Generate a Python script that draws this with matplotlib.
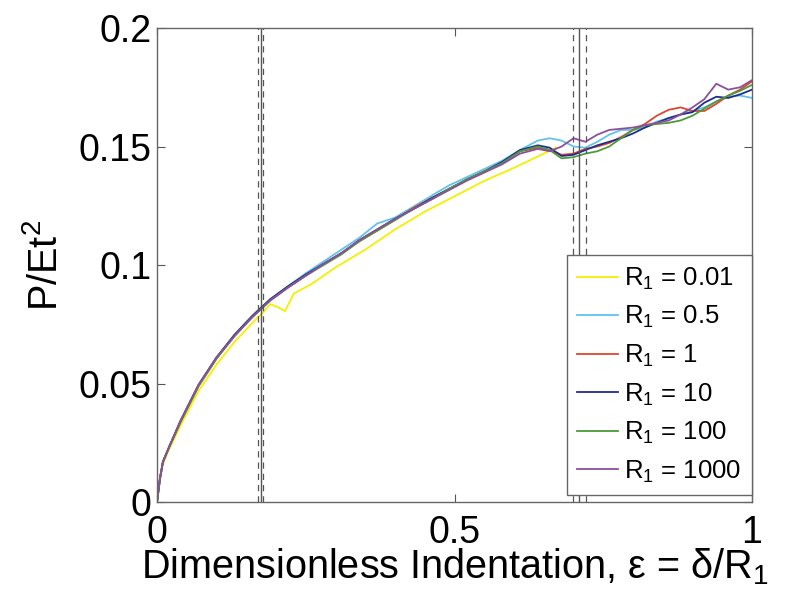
import matplotlib
matplotlib.use('Agg')
import matplotlib.pyplot as plt

# shared strain grid for most runs
x = [0, 0.005, 0.01, 0.02, 0.04, 0.07, 0.10, 0.13, 0.16, 0.19, 0.22, 0.25,
     0.28, 0.31, 0.34, 0.37, 0.40, 0.43, 0.46, 0.49, 0.52, 0.55, 0.58, 0.61,
     0.64, 0.66, 0.68, 0.70, 0.72, 0.74, 0.76, 0.78, 0.80, 0.82, 0.84, 0.86,
     0.88, 0.90, 0.92, 0.94, 0.96, 0.98, 1.0]

y_r05 = [0, 0.010, 0.017, 0.023, 0.0345, 0.0495, 0.061, 0.0705, 0.0785, 0.0855,
         0.091, 0.0965, 0.1015, 0.1065, 0.1115, 0.1175, 0.120, 0.1245, 0.129, 0.1335,
         0.137, 0.1405, 0.144, 0.1485, 0.1525, 0.1535, 0.1525, 0.150, 0.1495, 0.152,
         0.155, 0.157, 0.157, 0.158, 0.1605, 0.162, 0.1635, 0.165, 0.1665, 0.169,
         0.171, 0.1715, 0.1705]
y_r1 = [0, 0.010, 0.017, 0.023, 0.034, 0.049, 0.0605, 0.070, 0.078, 0.085,
        0.0905, 0.0955, 0.1005, 0.105, 0.110, 0.1145, 0.119, 0.124, 0.128, 0.132,
        0.136, 0.1395, 0.143, 0.148, 0.1495, 0.1485, 0.1465, 0.147, 0.149, 0.150,
        0.1515, 0.154, 0.157, 0.1595, 0.163, 0.1655, 0.1665, 0.165, 0.165, 0.168,
        0.1715, 0.174, 0.1775]
y_r10 = [0, 0.010, 0.017, 0.023, 0.0345, 0.0495, 0.061, 0.0705, 0.0785, 0.0855,
         0.091, 0.096, 0.1005, 0.105, 0.1105, 0.115, 0.1195, 0.1235, 0.128, 0.132,
         0.136, 0.1395, 0.1435, 0.1485, 0.1505, 0.1495, 0.146, 0.1465, 0.1485, 0.1505,
         0.152, 0.1535, 0.1555, 0.158, 0.160, 0.162, 0.1635, 0.1645, 0.1685, 0.171,
         0.1705, 0.172, 0.174]
y_r100 = [0, 0.010, 0.017, 0.023, 0.034, 0.049, 0.0605, 0.070, 0.078, 0.085,
          0.0905, 0.0955, 0.100, 0.1045, 0.110, 0.1145, 0.119, 0.1235, 0.1275, 0.132,
          0.136, 0.1395, 0.143, 0.148, 0.150, 0.1485, 0.1450, 0.1455, 0.147, 0.148,
          0.150, 0.1535, 0.157, 0.159, 0.1595, 0.160, 0.161, 0.163, 0.166, 0.169,
          0.1715, 0.1735, 0.176]
y_r1000 = [0, 0.010, 0.017, 0.023, 0.0345, 0.0495, 0.061, 0.070, 0.078, 0.085,
           0.0905, 0.0955, 0.1005, 0.105, 0.1105, 0.115, 0.1195, 0.1235, 0.1275, 0.1315,
           0.1355, 0.139, 0.1425, 0.147, 0.149, 0.148, 0.150, 0.1535, 0.152, 0.155,
           0.157, 0.1575, 0.158, 0.159, 0.160, 0.161, 0.1635, 0.1665, 0.170, 0.1765,
           0.174, 0.175, 0.178]

# smallest radius has its own sampling (kink near 0.2)
x_r001 = [0, 0.005, 0.01, 0.02, 0.04, 0.07, 0.10, 0.13, 0.16, 0.18, 0.19, 0.205,
          0.215, 0.23, 0.26, 0.30, 0.35, 0.40, 0.45, 0.50, 0.55, 0.60, 0.65, 0.67]
y_r001 = [0, 0.009, 0.016, 0.022, 0.0325, 0.047, 0.058, 0.0675, 0.0755, 0.0805,
          0.0835, 0.082, 0.0805, 0.088, 0.092, 0.099, 0.1065, 0.115, 0.1225, 0.129,
          0.1355, 0.141, 0.147, 0.1495]

# critical strain markers: mean (solid) and spread (dashed)
crit_solid = [0.1748, 0.7098]
crit_dashed = [0.1703, 0.1787, 0.6997, 0.7210]

labels = ['0.01', '0.5', '1', '10', '100', '1000']
colors = ['#f4f000', '#5fc3ee', '#e0442c', '#202c8e', '#4c9a3c', '#8c4f9c']

plt.rcParams['font.family'] = ['Liberation Sans', 'DejaVu Sans']
plt.rcParams['mathtext.fontset'] = 'custom'
plt.rcParams['mathtext.rm'] = 'Liberation Sans'
plt.rcParams['mathtext.it'] = 'Liberation Sans:italic'

fig = plt.figure(figsize=(7.91, 5.95), dpi=100)
ax = fig.add_axes([0.1985, 0.1563, 0.7522, 0.7966])

series = [(x_r001, y_r001), (x, y_r05), (x, y_r1), (x, y_r10), (x, y_r100), (x, y_r1000)]
for (xs, ys), lab, c in zip(series, labels, colors):
    ax.plot(xs, ys, color=c, lw=1.3, label=r'$\mathregular{R_1}$ = ' + lab)

for xv in crit_solid:
    ax.axvline(xv, color='#555555', lw=1.0)
for xv in crit_dashed:
    ax.axvline(xv, color='#555555', lw=0.9, ls=(0, (5, 4)))

ax.set_xlim(0, 1)
ax.set_ylim(0, 0.2)
ax.set_xticks([0, 0.5, 1])
ax.set_xticklabels(['0', '0.5', '1'])
ax.set_yticks([0, 0.05, 0.1, 0.15, 0.2])
ax.set_yticklabels(['0', '0.05', '0.1', '0.15', '0.2'])
ax.tick_params(direction='in', length=6, width=0.8, color='#555555',
               labelsize=27, top=True, right=True)
ax.tick_params(axis='x', pad=9)
ax.tick_params(axis='y', pad=4)
for sp in ax.spines.values():
    sp.set_color('#666666')
    sp.set_linewidth(1.0)

ax.set_xlabel(r'Dimensionless Indentation, ε = δ/$\mathregular{R_1}$', fontsize=28.5, labelpad=-3)
ax.set_ylabel(r'$\mathregular{P/Et^2}$', fontsize=28.5, labelpad=10)

leg = ax.legend(loc='lower right', bbox_to_anchor=(1.0, 0.015), borderaxespad=0,
                fontsize=18.5, handlelength=1.6, handletextpad=0.25, labelspacing=0.48,
                fancybox=False, framealpha=1, borderpad=0.4)
leg.get_frame().set_edgecolor('#666666')
leg.get_frame().set_linewidth(1.0)

fig.savefig('out.png', dpi=100)
